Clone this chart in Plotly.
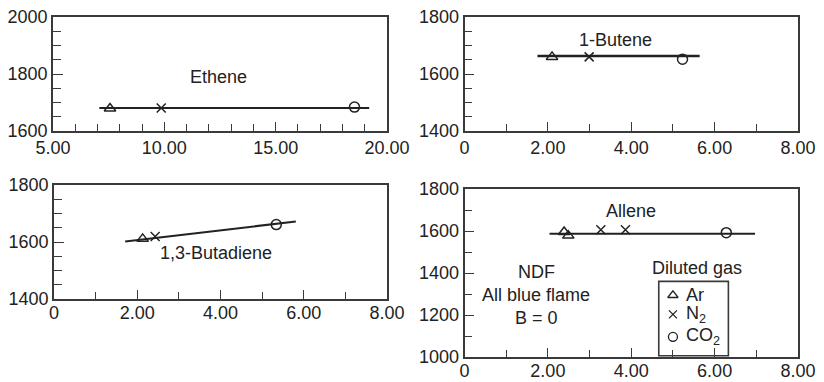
import plotly.graph_objects as go

# ---------------- data ----------------
ethene_fit_x = [7.08, 19.2]
ethene_fit_y = [1681, 1681]
ethene_ar = ([7.56], [1679])
ethene_n2 = ([9.86], [1681])
ethene_co2 = ([18.54], [1684])

butene_fit_x = [1.75, 5.64]
butene_fit_y = [1663, 1663]
butene_ar = ([2.10], [1660])
butene_n2 = ([2.99], [1660])
butene_co2 = ([5.23], [1652])

butadiene_fit_x = [1.71, 5.81]
butadiene_fit_y = [1602, 1672]
butadiene_ar = ([2.13], [1611])
butadiene_n2 = ([2.43], [1619])
butadiene_co2 = ([5.34], [1661])

allene_fit_x = [2.04, 6.97]
allene_fit_y = [1587, 1587]
allene_ar = ([2.39, 2.49], [1595, 1578])
allene_n2 = ([3.27, 3.86], [1606, 1606])
allene_co2 = ([6.28], [1592])

x_ticks_ethene = [5, 10, 15, 20]
x_text_ethene = ["5.00", "10.00", "15.00", "20.00"]
x_ticks_other = [0, 2, 4, 6, 8]
x_text_other = ["0", "2.00", "4.00", "6.00", "8.00"]

legend_marker_x = 5.0
legend_marker_y = [1294, 1203, 1096]
legend_labels = ["Ar", "N<sub>2</sub>", "CO<sub>2</sub>"]

# ---------------- styling ----------------
INK = "#222222"
AX = "#3a3a3a"
FONT = "Liberation Sans, Arial, Helvetica, sans-serif"
FS = 18

fig = go.Figure()

def add_panel(xa, ya, fit_x, fit_y, ar, n2, co2, lw=2):
    xr = "x" if xa == 1 else f"x{xa}"
    yr = "y" if ya == 1 else f"y{ya}"
    fig.add_trace(go.Scatter(x=fit_x, y=fit_y, mode="lines",
                             line=dict(color=INK, width=lw),
                             xaxis=xr, yaxis=yr, showlegend=False, hoverinfo="skip"))
    fig.add_trace(go.Scatter(x=ar[0], y=ar[1], mode="markers",
                             marker=dict(symbol="triangle-up-open", size=10, color=INK,
                                         line=dict(width=1.5, color=INK)),
                             xaxis=xr, yaxis=yr, showlegend=False))
    fig.add_trace(go.Scatter(x=n2[0], y=n2[1], mode="markers",
                             marker=dict(symbol="x-thin-open", size=9, color=INK,
                                         line=dict(width=1.5, color=INK)),
                             xaxis=xr, yaxis=yr, showlegend=False))
    fig.add_trace(go.Scatter(x=co2[0], y=co2[1], mode="markers",
                             marker=dict(symbol="circle-open", size=10, color=INK,
                                         line=dict(width=1.5, color=INK)),
                             xaxis=xr, yaxis=yr, showlegend=False))

add_panel(1, 1, ethene_fit_x, ethene_fit_y, ethene_ar, ethene_n2, ethene_co2, lw=2)
add_panel(2, 2, butene_fit_x, butene_fit_y, butene_ar, butene_n2, butene_co2, lw=2.5)
add_panel(3, 3, butadiene_fit_x, butadiene_fit_y, butadiene_ar, butadiene_n2, butadiene_co2, lw=2)
add_panel(4, 4, allene_fit_x, allene_fit_y, allene_ar, allene_n2, allene_co2, lw=2)

# legend markers (inside the box of panel 4)
fig.add_trace(go.Scatter(x=[legend_marker_x], y=[legend_marker_y[0]], mode="markers",
                         marker=dict(symbol="triangle-up-open", size=9, color=INK,
                                     line=dict(width=1.3, color=INK)),
                         xaxis="x4", yaxis="y4", showlegend=False))
fig.add_trace(go.Scatter(x=[legend_marker_x], y=[legend_marker_y[1]], mode="markers",
                         marker=dict(symbol="x-thin-open", size=8, color=INK,
                                     line=dict(width=1.3, color=INK)),
                         xaxis="x4", yaxis="y4", showlegend=False))
fig.add_trace(go.Scatter(x=[legend_marker_x], y=[legend_marker_y[2]], mode="markers",
                         marker=dict(symbol="circle-open", size=9, color=INK,
                                     line=dict(width=1.3, color=INK)),
                         xaxis="x4", yaxis="y4", showlegend=False))

W, H = 824, 382
def xd(a, b):
    return [a / W, b / W]
def yd(top, bottom):
    return [1 - bottom / H, 1 - top / H]

def xaxis(domain, rng, tv, tt, anchor, standoff=0):
    return dict(domain=domain, range=rng, anchor=anchor, showline=True, mirror=True,
                linecolor=AX, linewidth=1.6, showgrid=False, zeroline=False,
                automargin=False, ticklabelstandoff=standoff,
                ticks="inside", ticklen=9, tickwidth=1.4, tickcolor=AX,
                tickmode="array", tickvals=tv, ticktext=tt,
                tickfont=dict(family=FONT, size=FS, color=INK),
                minor=dict(ticks="inside", ticklen=7, tickwidth=1.4, tickcolor=AX,
                           tickmode="linear", tick0=rng[0], dtick=1, showgrid=False),
                fixedrange=True)

def yaxis(domain, rng, dtick, mdt, anchor):
    return dict(domain=domain, range=rng, anchor=anchor, showline=True, mirror=True,
                linecolor=AX, linewidth=1.6, showgrid=False, zeroline=False,
                automargin=False, ticklabelstandoff=0,
                ticks="inside", ticklen=10, tickwidth=1.4, tickcolor=AX,
                tickmode="linear", tick0=rng[0], dtick=dtick,
                tickfont=dict(family=FONT, size=FS, color=INK),
                minor=dict(ticks="inside", ticklen=8, tickwidth=1.4, tickcolor=AX,
                           tickmode="linear", tick0=rng[0], dtick=mdt, showgrid=False),
                fixedrange=True)

fig.update_layout(
    width=W, height=H, margin=dict(l=0, r=0, t=0, b=0, autoexpand=False),
    paper_bgcolor="white", plot_bgcolor="white",
    font=dict(family=FONT, size=FS, color=INK),
    xaxis=xaxis(xd(53, 387), [5, 20], x_ticks_ethene, x_text_ethene, "y", 0),
    yaxis=yaxis(yd(17, 131), [1600, 2000], 200, 50, "x"),
    xaxis2=xaxis(xd(464.5, 798), [0, 8], x_ticks_other, x_text_other, "y2", 0),
    yaxis2=yaxis(yd(17, 131), [1400, 1800], 200, 50, "x2"),
    xaxis3=xaxis(xd(54, 387), [0, 8], x_ticks_other, x_text_other, "y3", -3),
    yaxis3=yaxis(yd(185, 299), [1400, 1800], 200, 50, "x3"),
    xaxis4=xaxis(xd(464.5, 798), [0, 8], x_ticks_other, x_text_other, "y4", -3),
    yaxis4=yaxis(yd(189, 357), [1000, 1800], 200, 100, "x4"),
)

def note(text, x, y, xr, yr, xanchor="center"):
    fig.add_annotation(text=text, x=x, y=y, xref=xr, yref=yr, showarrow=False,
                       xanchor=xanchor, yanchor="middle",
                       font=dict(family=FONT, size=FS, color=INK))

note("Ethene", 12.45, 1790, "x", "y")
note("1-Butene", 3.63, 1721, "x2", "y2")
note("1,3-Butadiene", 3.89, 1562, "x3", "y3")
note("Allene", 4.0, 1694, "x4", "y4")
note("NDF", 1.72, 1406, "x4", "y4")
note("All blue flame", 1.72, 1294, "x4", "y4")
note("B = 0", 1.72, 1187, "x4", "y4")
note("Diluted gas", 5.57, 1424, "x4", "y4")
for lab, ly in zip(legend_labels, legend_marker_y):
    note(lab, 5.27, ly, "x4", "y4", xanchor="left")

fig.add_shape(type="rect", xref="x4", yref="y4", x0=4.66, x1=6.33, y0=1006, y1=1360,
              line=dict(color=AX, width=1.6), fillcolor="rgba(0,0,0,0)")

fig.write_html("out.html", config={"displayModeBar": False},
               post_script="document.body.style.margin='0';document.body.style.overflow='hidden';")
